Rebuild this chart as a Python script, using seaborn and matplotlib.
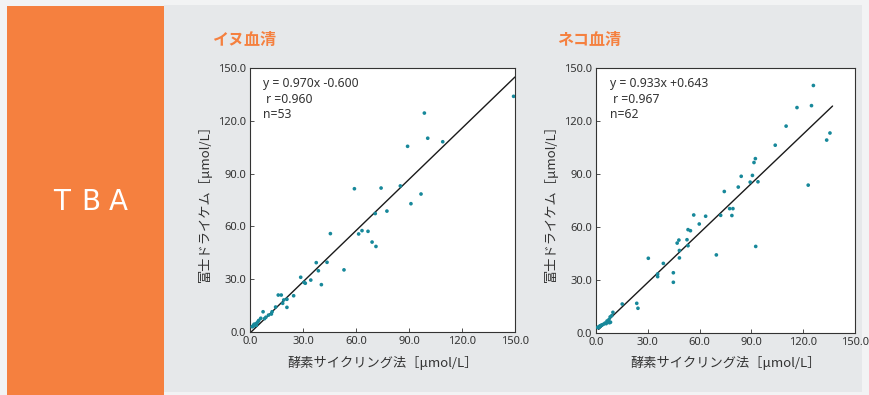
import numpy as np
import pandas as pd
import matplotlib
matplotlib.use("Agg")
import matplotlib.pyplot as plt
import seaborn as sns
from matplotlib.patches import Rectangle

# ---------------- data ----------------
dog_x = [149.2, 98.7, 100.6, 109.1, 89.2, 59.1, 74.2, 85.1, 96.8, 91.1,
         77.5, 70.9, 45.5, 61.5, 63.4, 66.8, 69.1, 71.3, 37.5, 43.6,
         38.7, 53.2, 28.7, 30.6, 34.4, 31.3, 40.4, 16.0, 17.7, 24.7,
         19.1, 20.9, 18.5, 20.9, 12.5, 12.1, 7.4, 6.1, 5.0, 4.0,
         3.2, 2.6, 2.0, 1.6, 1.2, 9.0, 10.5, 3.6, 1.8, 2.3,
         4.6, 8.2, 14.5]
dog_y = [133.9, 124.4, 110.1, 108.1, 105.5, 81.4, 81.8, 83.0, 78.4, 72.9,
         68.7, 67.3, 55.9, 55.7, 57.6, 57.2, 51.1, 48.6, 39.4, 39.6,
         34.8, 35.3, 31.1, 28.2, 29.5, 27.7, 26.9, 21.0, 21.0, 20.6,
         18.2, 18.6, 16.3, 14.0, 11.5, 10.2, 11.5, 7.8, 6.6, 5.2,
         4.6, 4.0, 3.6, 3.2, 3.0, 8.4, 9.6, 3.8, 3.4, 4.4,
         6.0, 7.6, 14.2]

cat_x = [125.9, 124.8, 116.4, 110.1, 135.5, 133.6, 103.8, 92.3, 91.5, 90.6,
         84.1, 89.3, 93.8, 82.4, 74.3, 122.9, 77.4, 79.3, 78.7, 72.2,
         63.5, 56.6, 59.8, 53.3, 54.7, 52.7, 53.3, 48.0, 47.0, 48.3,
         48.3, 92.5, 69.7, 30.3, 39.0, 35.7, 35.7, 44.8, 44.8, 23.6,
         24.3, 15.2, 9.8, 9.1, 8.2, 7.5, 6.9, 8.4, 5.9, 3.2,
         2.5, 1.7, 1.3, 2.0, 2.8, 3.6, 4.4, 6.4, 7.8, 1.0,
         2.2, 5.2]
cat_y = [140.1, 128.7, 127.6, 117.1, 113.2, 109.2, 106.3, 98.7, 96.5, 89.2,
         88.7, 85.4, 85.6, 82.6, 80.1, 83.7, 70.4, 70.4, 66.5, 66.6,
         66.1, 66.8, 61.7, 58.5, 57.9, 52.8, 49.4, 52.6, 50.9, 46.7,
         42.5, 49.0, 44.2, 42.3, 39.4, 33.4, 31.9, 34.1, 28.7, 16.8,
         14.0, 16.4, 11.7, 9.8, 9.1, 7.6, 6.3, 6.1, 5.3, 4.4,
         4.0, 3.4, 3.0, 3.8, 4.2, 4.6, 5.0, 6.8, 5.8, 3.2,
         3.6, 5.6]

dog_fit = (0.970, -0.600, 0.0, 150.0)   # slope, intercept, x range
cat_fit = (0.933, 0.643, 1.5, 137.0)

dog_stats = ["y = 0.970x -0.600", " r =0.960", "n=53"]
cat_stats = ["y = 0.933x +0.643", " r =0.967", "n=62"]

titles = ["イヌ血清", "ネコ血清"]
xlabel = "酵素サイクリング法［μmol/L］"
ylabel = "富士ドライケム［μmol/L］"
ticks = [0.0, 30.0, 60.0, 90.0, 120.0, 150.0]
tick_labels = ["0.0", "30.0", "60.0", "90.0", "120.0", "150.0"]
panel_label = "TBA"

# ---------------- style ----------------
sns.set_theme(style="white")
plt.rcParams['font.family'] = ['Noto Sans CJK JP', 'DejaVu Sans']

ORANGE = "#F5803F"
GREY_BG = "#E6E8EA"
DOT = "#17889A"

fig = plt.figure(figsize=(8.7, 3.95), dpi=100)
fig.patch.set_facecolor("#F2F3F4")
W, H = 870.0, 395.0
fig.patches.append(Rectangle((164 / W, 3 / H), (862 - 164) / W, (390 - 3) / H,
                             transform=fig.transFigure, facecolor=GREY_BG,
                             edgecolor="none", zorder=-10))
fig.patches.append(Rectangle((7 / W, 0), (164 - 7) / W, (395 - 6) / H,
                             transform=fig.transFigure, facecolor=ORANGE,
                             edgecolor="none", zorder=-10))
letter_x = [62, 91, 118]
for ch, lx_ in zip(panel_label, letter_x):
    fig.text(lx_ / W, 1 - 202 / H, ch, color="white", fontsize=20,
             ha="center", va="center", family=["DejaVu Sans"])

axes_px = [(250, 332, 265, 264), (596, 333, 259, 265)]
title_px = [(213, 40), (557, 40)]
stat_x = [0.049, 0.054]
datasets = [(dog_x, dog_y, dog_fit, dog_stats), (cat_x, cat_y, cat_fit, cat_stats)]

for (l, b, w, h), (tx, ty), sx, (xs, ys, fit, stats), title in zip(
        axes_px, title_px, stat_x, datasets, titles):
    ax = fig.add_axes([l / W, (H - b) / H, w / W, h / H], zorder=5)
    ax.set_facecolor("white")
    df = pd.DataFrame({"x": xs, "y": ys})
    sns.scatterplot(data=df, x="x", y="y", ax=ax, color=DOT, s=7,
                    edgecolor="none", zorder=3)
    slope, icpt, x0, x1 = fit
    lx = np.array([x0, x1])
    line_df = pd.DataFrame({"x": lx, "y": slope * lx + icpt})
    sns.lineplot(data=line_df, x="x", y="y", ax=ax, color="#1a1a1a",
                 linewidth=1.0, zorder=2)
    ax.set_xlim(0, 150)
    ax.set_ylim(0, 150)
    ax.set_xticks(ticks)
    ax.set_yticks(ticks)
    ax.set_xticklabels(tick_labels, family=["Noto Sans", "DejaVu Sans"],
                       fontsize=8, color="#333333")
    ax.set_yticklabels(tick_labels, family=["Noto Sans", "DejaVu Sans"],
                       fontsize=8, color="#333333")
    ax.tick_params(direction="in", length=3, width=0.6, pad=3,
                   bottom=True, left=True, colors="#333333")
    for sp in ax.spines.values():
        sp.set_color("#333333")
        sp.set_linewidth(0.8)
    ax.set_xlabel(xlabel, fontsize=9.5, color="#333333", labelpad=6)
    ax.set_ylabel(ylabel, fontsize=9.5, color="#333333", labelpad=4)
    for i, s in enumerate(stats):
        ax.text(sx, 0.94 - i * 0.058, s, transform=ax.transAxes,
                fontsize=8.8, color="#333333", va="center",
                family=["Noto Sans", "DejaVu Sans"])
    fig.text(tx / W, 1 - ty / H, title, color=ORANGE, fontsize=11.5,
             fontweight="bold", ha="left", va="center")

fig.savefig("out.png", dpi=100, facecolor=fig.get_facecolor())
